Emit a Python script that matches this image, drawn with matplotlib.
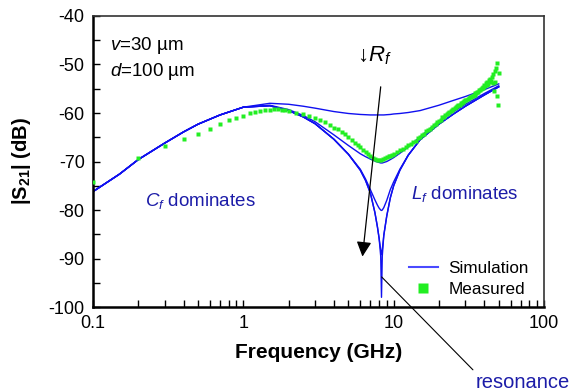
import matplotlib
matplotlib.use("Agg")
import matplotlib.pyplot as plt
from matplotlib.lines import Line2D

plt.rcParams["font.family"] = ["Liberation Sans", "DejaVu Sans"]
plt.rcParams["axes.unicode_minus"] = False
plt.rcParams["mathtext.fontset"] = "custom"
plt.rcParams["mathtext.rm"] = "Liberation Sans"
plt.rcParams["mathtext.it"] = "Liberation Sans:italic"
plt.rcParams["mathtext.bf"] = "Liberation Sans:bold"

# ---- simulation (frequency in GHz, |S21| in dB), one curve per R_f ----
f_sim = [0.1, 0.15, 0.2, 0.3, 0.4, 0.5, 0.7, 1.0, 1.5, 2.0, 2.5, 3.0, 4.0, 5.0,
         6.0, 6.5, 7.0, 7.5, 7.8, 8.0, 8.2, 8.3, 8.4, 8.6, 9.0, 9.5, 10, 11,
         12.5, 15, 20, 25, 30, 40, 50]
low = [-76.2, -72.6, -69.6, -66.2, -63.9, -62.3, -60.4, -58.8]
sim_r1 = low + [-58.0, -58.2, -58.6, -59.0, -59.7, -60.1, -60.3, -60.35, -60.4,
                -60.4, -60.4, -60.4, -60.4, -60.4, -60.4, -60.4, -60.35, -60.3,
                -60.2, -60.1, -59.9, -59.5, -58.4, -57.4, -56.6, -55.2, -54.0]
sim_r2 = low + [-58.4, -59.3, -60.5, -61.8, -64.5, -66.7, -68.4, -69.0, -69.5,
                -69.9, -70.1, -70.2, -70.3, -70.3, -70.3, -70.2, -70.0, -69.6,
                -69.2, -68.3, -67.0, -64.9, -61.7, -59.7, -58.2, -56.0, -54.4]
sim_r3 = low + [-58.5, -59.5, -60.8, -62.2, -65.4, -68.5, -71.6, -73.6, -75.8,
                -77.9, -79.0, -79.6, -80.0, -80.1, -80.0, -79.5, -78.0, -75.8,
                -74.2, -71.6, -68.7, -65.5, -62.3, -60.2, -58.6, -56.3, -54.6]
sim_r4 = low + [-58.5, -59.5, -60.8, -62.2, -65.4, -68.5, -71.8, -73.9, -76.5,
                -80.5, -83.5, -85.8, -88.2, -89.2, -88.2, -85.2, -81.2, -77.5,
                -75.0, -71.8, -68.7, -65.5, -62.3, -60.2, -58.6, -56.3, -54.6]
sim_r5 = low + [-58.5, -59.5, -60.8, -62.2, -65.4, -68.5, -71.8, -73.9, -76.5,
                -80.5, -83.5, -85.8, -89.5, -98.0, -89.5, -85.2, -81.2, -77.5,
                -75.0, -71.8, -68.7, -65.5, -62.3, -60.2, -58.6, -56.3, -54.6]
sim_curves = [sim_r1, sim_r2, sim_r3, sim_r4, sim_r5]

# ---- measured ----
f_meas = [0.1, 0.2, 0.3, 0.4, 0.5, 0.6, 0.7, 0.8, 0.9, 1.0,
          1.1, 1.2, 1.3, 1.4, 1.5, 1.6, 1.7, 1.8, 1.9, 2.0,
          2.25, 2.5, 2.75, 3.0, 3.25, 3.5, 3.75, 4.0, 4.25, 4.5,
          4.75, 5.0, 5.25, 5.5, 5.75, 6.0, 6.25, 6.5, 6.75, 7.0,
          7.25, 7.5, 7.75, 8.0, 8.25, 8.5, 8.75, 9.0, 9.25, 9.5,
          9.75, 10.0, 10.5, 11, 11.5, 12, 12.5, 13, 13.5, 14,
          14.5, 15, 15.5, 16, 16.5, 17, 17.5, 18, 18.5, 19,
          19.5, 20, 20.5, 21, 21.5, 22, 22.5, 23, 23.5, 24,
          24.5, 25, 25.5, 26, 26.5, 27, 27.5, 28, 28.5, 29,
          29.5, 30, 30.5, 31, 31.5, 32, 32.5, 33, 33.5, 34,
          34.5, 35, 35.5, 36, 36.5, 37, 37.5, 38, 38.5, 39,
          39.5, 40, 40.5, 41, 41.5, 42, 42.5, 43, 43.5, 44,
          44.5, 45, 45.5, 46, 46.5, 47, 47.5, 48, 48.5, 49,
          49.5, 50]
s21_meas = [-74.2, -69.3, -66.9, -65.4, -64.4, -63.3, -62.3, -61.5, -61.0, -60.6,
            -60.1, -59.8, -59.6, -59.4, -59.3, -59.2, -59.2, -59.3, -59.4, -59.5,
            -60.0, -60.3, -60.7, -61.1, -61.5, -61.9, -62.4, -63.0, -63.4, -63.9,
            -64.4, -65.0, -65.5, -66.1, -66.6, -67.1, -67.6, -68.1, -68.5, -68.9,
            -69.2, -69.5, -69.7, -69.7, -69.6, -69.5, -69.3, -69.1, -68.9, -68.8,
            -68.6, -68.4, -68.1, -67.7, -67.4, -67.1, -66.6, -66.4, -65.9, -65.7,
            -65.2, -64.9, -64.5, -64.3, -63.8, -63.6, -63.2, -62.9, -62.5, -62.3,
            -61.9, -61.6, -61.4, -60.9, -60.8, -60.4, -60.3, -59.9, -59.8, -59.5,
            -59.4, -59.1, -59.0, -58.7, -58.6, -58.4, -58.3, -58.0, -58.0, -57.7,
            -57.6, -57.4, -57.3, -57.1, -57.0, -56.8, -56.8, -56.5, -56.5, -56.2,
            -56.2, -55.9, -55.9, -55.6, -55.6, -55.3, -55.3, -55.0, -54.9, -54.6,
            -54.8, -54.3, -54.5, -53.9, -54.2, -53.6, -54.0, -53.2, -53.6, -52.9,
            -53.5, -52.6, -53.8, -51.9, -55.4, -51.4, -53.6, -50.8, -56.4, -49.6,
            -58.3, -51.8]

fig, ax = plt.subplots(figsize=(5.76, 3.92), dpi=100)
fig.subplots_adjust(left=0.1615, right=0.9444, bottom=0.2168, top=0.9592)

blue = "#1010f0"
for s in sim_curves:
    ax.plot(f_sim, s, color=blue, lw=1.0, zorder=2)
ax.plot(f_meas, s21_meas, ls="none", marker="s", ms=2.8, mec="none",
        color="#22ee22", zorder=3)

ax.set_xscale("log")
ax.set_xlim(0.1, 100)
ax.set_ylim(-100, -40)
ax.set_xticks([0.1, 1, 10, 100])
ax.set_xticklabels(["0.1", "1", "10", "100"])
ax.set_yticks(range(-100, -39, 10))
ax.set_yticks(range(-95, -40, 10), minor=True)
ax.tick_params(which="both", direction="in", length=5, width=1.0,
               labelsize=13, top=False, right=False)
ax.tick_params(axis="y", pad=6)
ax.tick_params(axis="x", pad=6)
for side in ("left", "bottom"):
    ax.spines[side].set_linewidth(1.8)
for side in ("top", "right"):
    ax.spines[side].set_linewidth(1.2)
    ax.spines[side].set_color("#333333")

ax.set_xlabel("Frequency (GHz)", fontsize=15, fontweight="bold")
ax.xaxis.set_label_coords(0.5, -0.122)
ax.set_ylabel(r"$\mathbf{|S_{21}|}$ (dB)", fontsize=14.5, fontweight="bold")
ax.yaxis.set_label_coords(-0.134, 0.5)

navy = "#1c1ca8"
ax.text(0.038, 0.90, r"$\it{v}$=30 µm", transform=ax.transAxes, fontsize=13.5,
        va="center")
ax.text(0.038, 0.81, r"$\it{d}$=100 µm", transform=ax.transAxes, fontsize=13.5,
        va="center")
ax.text(0.115, 0.365, r"$C_f$ dominates", transform=ax.transAxes,
        fontsize=13.5, color=navy, va="center")
ax.text(0.705, 0.39, r"$L_f$ dominates", transform=ax.transAxes,
        fontsize=13.5, color=navy, va="center")
ax.text(0.585, 0.865, r"↓$R_f$", transform=ax.transAxes, fontsize=16,
        va="center")

# R_f arrow
ax.annotate("", xy=(6.2, -89.6), xytext=(8.2, -54.6),
            arrowprops=dict(arrowstyle="-|>,head_length=0.9,head_width=0.45",
                            color="black", lw=0.9, shrinkA=0, shrinkB=0))
# resonance pointer
ax.annotate("resonance", xy=(8.32, -93.8), xytext=(0.953, -0.258),
            textcoords="axes fraction", fontsize=14.5, color=navy,
            ha="center", va="center",
            arrowprops=dict(arrowstyle="-", color="black", lw=0.8,
                            shrinkA=0, shrinkB=0, relpos=(0.0, 1.0)),
            annotation_clip=False)

handles = [Line2D([], [], color="#4a4aff", lw=1.5),
           Line2D([], [], ls="none", marker="s", ms=6.7, color="#22ee22",
                  mec="none")]
ax.legend(handles, ["Simulation", "Measured"], loc="lower right",
          bbox_to_anchor=(1.0, -0.02), frameon=False, fontsize=12.3,
          handlelength=1.7, handletextpad=0.6, labelspacing=0.4)

fig.savefig("out.png", dpi=100)
